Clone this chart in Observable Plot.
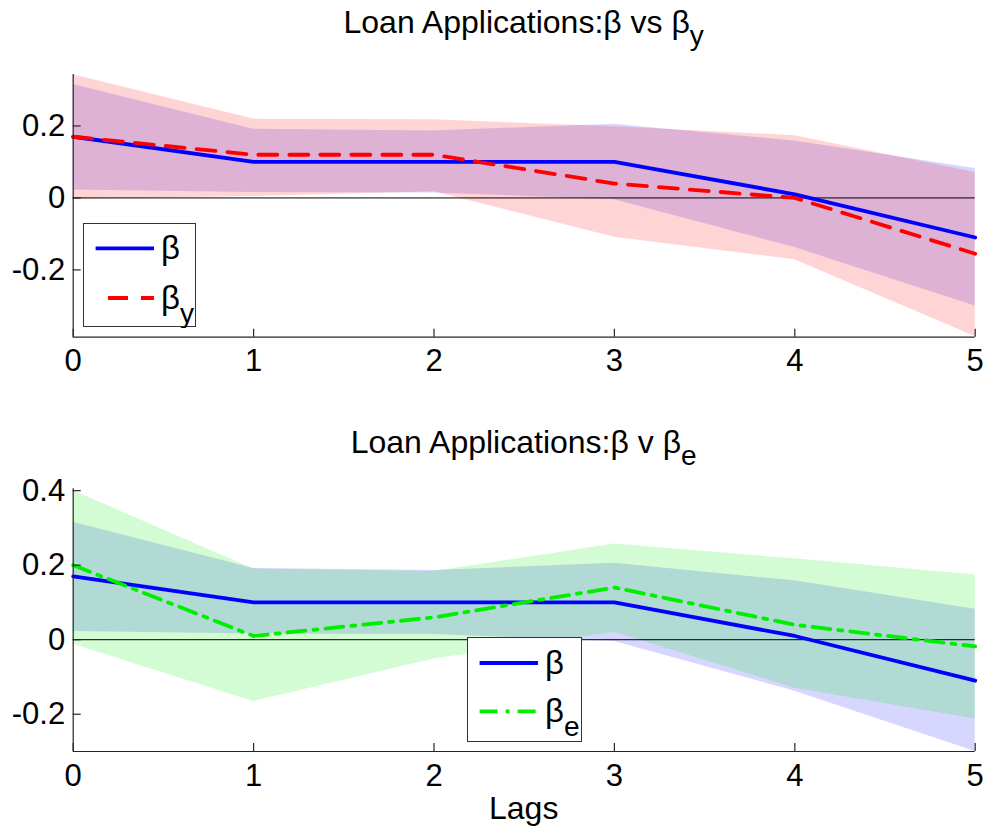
<!DOCTYPE html>
<html>
<head>
<meta charset="utf-8">
<script src="https://cdn.jsdelivr.net/npm/d3@7"></script>
<script src="https://cdn.jsdelivr.net/npm/@observablehq/plot@0.6"></script>
<style>
  html, body { margin: 0; padding: 0; background: #fff; }
  #wrap { position: relative; width: 988px; height: 832px; font-family: "Liberation Sans", Arial, sans-serif; color: #000; overflow: hidden; }
  .panel { position: absolute; left: 0; }
  .title { position: absolute; left: 72.7px; width: 902px; text-align: center; font-size: 32px; line-height: 36px; white-space: nowrap; }
  .sub { font-size: 28px; position: relative; top: 12px; }
  .legend { position: absolute; background: #fff; border: 1px solid #333; box-sizing: border-box; }
  .legend svg { position: absolute; left: 0; top: 0; }
</style>
</head>
<body>
<div id="wrap"></div>
<script>
// ---- data ----
const lags = [0, 1, 2, 3, 4, 5];
const xTicks = [0, 1, 2, 3, 4, 5];
const yTicksTop = [-0.2, 0, 0.2];
const yTicksBottom = [-0.2, 0, 0.2, 0.4];

const beta   = [0.17, 0.10, 0.10, 0.10, 0.01, -0.11];
const betaLo = [0.022, 0.015, 0.014, -0.005, -0.138, -0.30];
const betaHi = [0.315, 0.191, 0.186, 0.205, 0.158, 0.082];

const betaY   = [0.17, 0.12, 0.12, 0.04, 0.0, -0.155];
const betaYLo = [-0.004, 0.004, 0.017, -0.109, -0.172, -0.385];
const betaYHi = [0.342, 0.219, 0.217, 0.198, 0.173, 0.071];

const betaE   = [0.20, 0.01, 0.06, 0.14, 0.04, -0.018];
const betaELo = [-0.012, -0.166, -0.052, 0.02, -0.13, -0.213];
const betaEHi = [0.40, 0.19, 0.183, 0.257, 0.217, 0.174];

const topTitle = ["Loan Applications:\u03B2 vs \u03B2", "y"];
const bottomTitle = ["Loan Applications:\u03B2 v \u03B2", "e"];
const xLabel = "Lags";

// ---- build tables ----
const rows = lags.map((lag, i) => ({
  lag,
  b: beta[i], bLo: betaLo[i], bHi: betaHi[i],
  by: betaY[i], byLo: betaYLo[i], byHi: betaYHi[i],
  be: betaE[i], beLo: betaELo[i], beHi: betaEHi[i]
}));

const BLUE = "#0000ff", RED = "#ff0000", GREEN = "#00ee00";
const AX = "#262626";
const fmt = d => d === 0 ? "0" : (d < 0 ? "-" : "") + Math.abs(d).toFixed(1);

function panel({height, marginTop, marginBottom, yDomain, yTicks, other}) {
  const marginLeft = 72.7, marginRight = 13.3, width = 988;
  const plotH = height - marginTop - marginBottom;
  const plotW = width - marginLeft - marginRight;
  return Plot.plot({
    width, height, marginLeft, marginRight, marginTop, marginBottom,
    x: {domain: [0, 5]},
    y: {domain: yDomain},
    style: {fontFamily: "'Liberation Sans', Arial, sans-serif", color: "#000", background: "transparent"},
    marks: [
      Plot.areaY(rows, {x: "lag", y1: "bLo", y2: "bHi", fill: BLUE, fillOpacity: 0.16, curve: "linear"}),
      Plot.areaY(rows, {x: "lag", y1: other.lo, y2: other.hi, fill: other.color, fillOpacity: 0.17, curve: "linear"}),
      Plot.ruleY([0], {stroke: "#000", strokeWidth: 1}),
      Plot.line(rows, {x: "lag", y: "b", stroke: BLUE, strokeWidth: 3.8}),
      Plot.line(rows, {x: "lag", y: other.key, stroke: other.color, strokeWidth: 3.8, strokeDasharray: other.dash}),
      Plot.ruleX([0], {stroke: AX, strokeWidth: 1.2}),
      Plot.ruleY([yDomain[0]], {stroke: AX, strokeWidth: 1.2}),
      Plot.tickX(xTicks, {x: d => d, stroke: AX, strokeWidth: 1.2, insetTop: plotH - 8}),
      Plot.tickY(yTicks, {y: d => d, stroke: AX, strokeWidth: 1.2, insetRight: plotW - 8}),
      Plot.axisX(xTicks, {tickSize: 0, tickPadding: 12, fontSize: 31, tickFormat: d => String(d), label: null}),
      Plot.axisY(yTicks, {tickSize: 0, tickPadding: 8, fontSize: 31, tickFormat: fmt, label: null})
    ]
  });
}

const wrap = document.getElementById("wrap");

const p1 = panel({
  height: 400, marginTop: 74, marginBottom: 63.3,
  yDomain: [-0.387, 0.343], yTicks: yTicksTop,
  other: {lo: "byLo", hi: "byHi", key: "by", color: RED, dash: "19,12"}
});
p1.classList.add("panel"); p1.style.top = "0px";
wrap.appendChild(p1);

const p2 = panel({
  height: 432, marginTop: 88.3, marginBottom: 81,
  yDomain: [-0.3, 0.405], yTicks: yTicksBottom,
  other: {lo: "beLo", hi: "beHi", key: "be", color: GREEN, dash: "18,8,4,8"}
});
p2.classList.add("panel"); p2.style.top = "400px";
wrap.appendChild(p2);

function addTitle(parts, top) {
  const d = document.createElement("div");
  d.className = "title";
  d.style.top = top + "px";
  d.textContent = parts[0];
  if (parts[1]) {
    const s = document.createElement("span");
    s.className = "sub"; s.textContent = parts[1];
    d.appendChild(s);
  }
  wrap.appendChild(d);
}
addTitle(topTitle, 4);
addTitle(bottomTitle, 424);

const xl = document.createElement("div");
xl.className = "title"; xl.style.top = "790px"; xl.textContent = xLabel;
wrap.appendChild(xl);

function addLegend(left, top, w, h, items) {
  const d = document.createElement("div");
  d.className = "legend";
  Object.assign(d.style, {left: left + "px", top: top + "px", width: w + "px", height: h + "px"});
  const ns = "http://www.w3.org/2000/svg";
  const svg = document.createElementNS(ns, "svg");
  svg.setAttribute("width", w); svg.setAttribute("height", h);
  items.forEach(it => {
    const l = document.createElementNS(ns, "line");
    l.setAttribute("x1", it.x1); l.setAttribute("x2", 70);
    l.setAttribute("y1", it.y); l.setAttribute("y2", it.y);
    l.setAttribute("stroke", it.color); l.setAttribute("stroke-width", 3.8);
    if (it.dash) l.setAttribute("stroke-dasharray", it.dash);
    svg.appendChild(l);
    const t = document.createElementNS(ns, "text");
    t.setAttribute("x", 77); t.setAttribute("y", it.y + 11);
    t.setAttribute("font-size", 33);
    t.setAttribute("font-family", "'Liberation Sans', Arial, sans-serif");
    t.textContent = "\u03B2";
    if (it.sub) {
      const ts = document.createElementNS(ns, "tspan");
      ts.setAttribute("dy", 14); ts.setAttribute("font-size", 28);
      ts.textContent = it.sub;
      t.appendChild(ts);
    }
    svg.appendChild(t);
  });
  d.appendChild(svg);
  wrap.appendChild(d);
}
addLegend(82.7, 223.3, 113, 104, [
  {x1: 11.6, y: 24.4, color: BLUE},
  {x1: 24, y: 74, color: RED, dash: "20,13", sub: "y"}
]);
addLegend(466.7, 636.7, 115, 105, [
  {x1: 11.6, y: 25, color: BLUE},
  {x1: 11.6, y: 73.3, color: GREEN, dash: "18,8,4,8", sub: "e"}
]);
</script>
</body>
</html>
